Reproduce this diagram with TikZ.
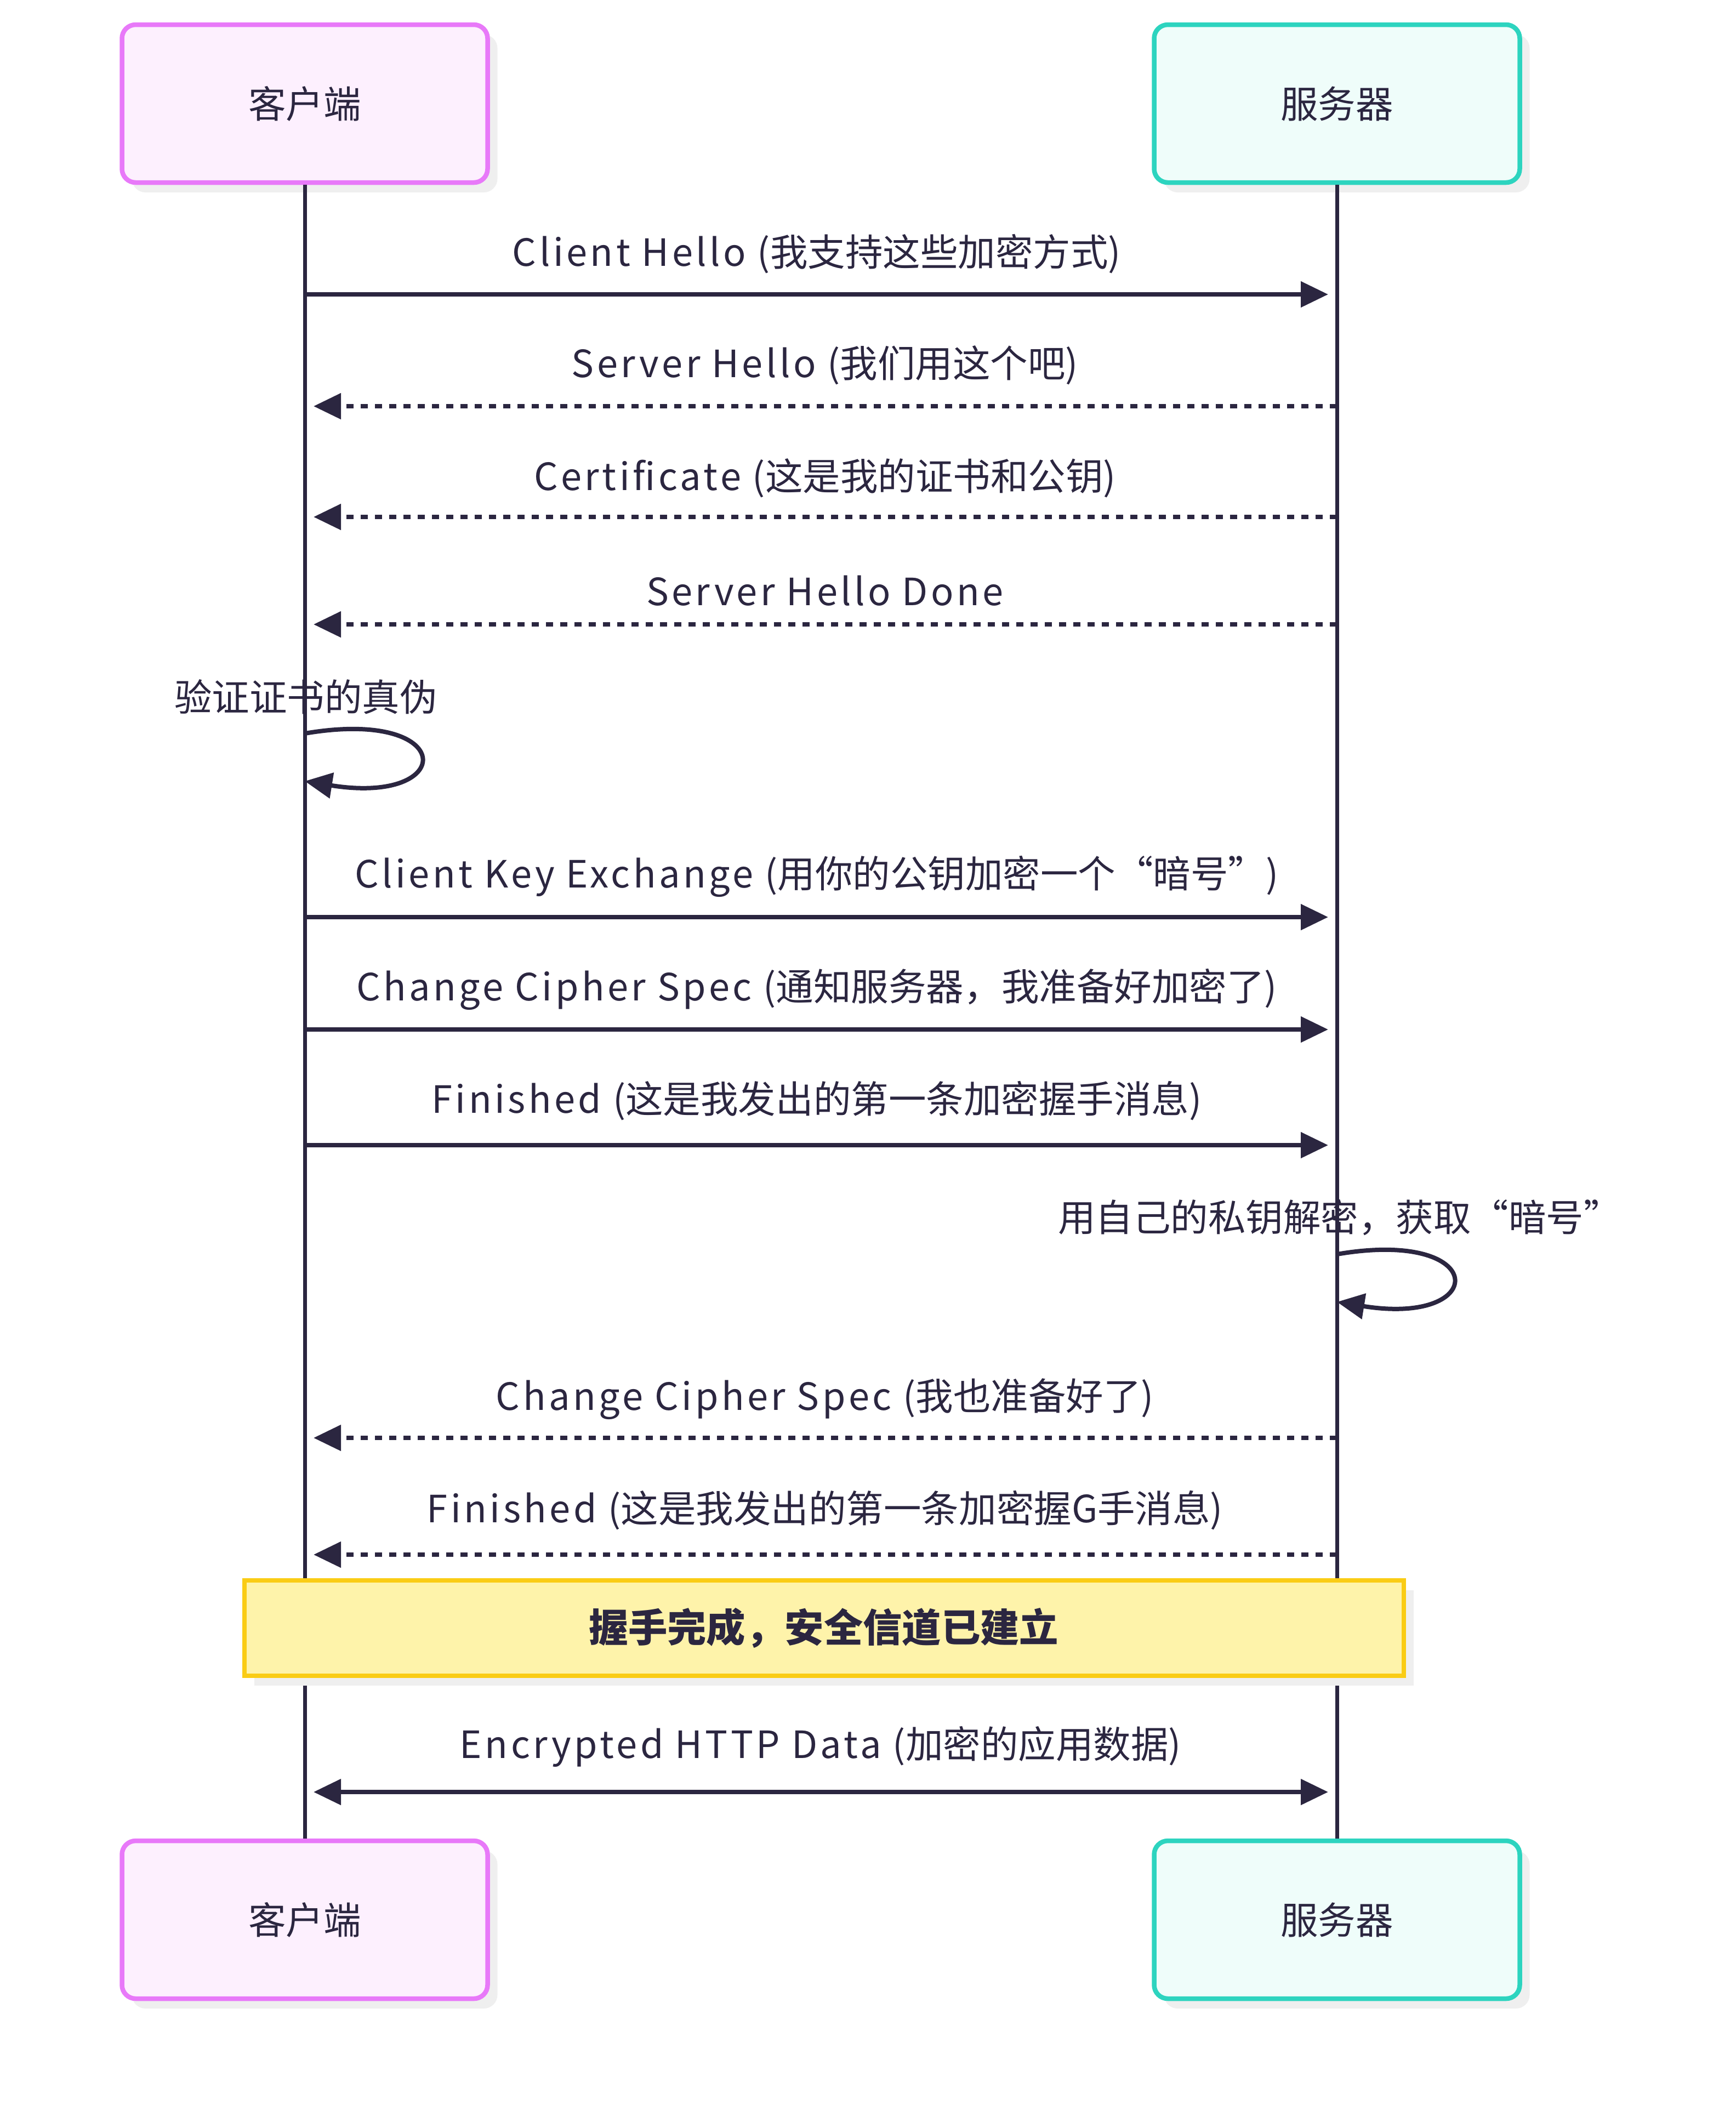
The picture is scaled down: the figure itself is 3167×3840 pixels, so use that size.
\documentclass[tikz,border=0pt]{standalone}
\usepackage{fontspec}
\setmainfont{Noto Sans CJK SC}
\newfontfamily\latinfont{Noto Sans CJK SC}[LetterSpace=8]
\newcommand\mixlabel[2]{{\latinfont #1 (}#2{\latinfont )}}
\usepackage{xcolor}
\usetikzlibrary{arrows.meta,shadows}
\definecolor{ink}{RGB}{43,38,64}
\definecolor{clientborder}{RGB}{232,121,249}
\definecolor{clientfill}{RGB}{253,240,254}
\definecolor{serverborder}{RGB}{45,212,191}
\definecolor{serverfill}{RGB}{239,253,250}
\definecolor{noteborder}{RGB}{250,204,21}
\definecolor{notefill}{RGB}{254,243,170}
\definecolor{shade}{RGB}{239,239,239}
\tikzset{
  actor/.style={
    rectangle,
    rounded corners=2.5mm,
    line width=0.85mm,
    minimum width=66.7mm,
    minimum height=28.8mm,
    align=center,
    text=ink,
    font=\fontsize{19.5pt}{24pt}\selectfont,
    drop shadow={shadow xshift=1.8mm, shadow yshift=-1.8mm, fill=shade, opacity=1}
  },
  msg/.style={
    -{Triangle[length=5mm,width=4.6mm]},
    draw=ink,
    line width=0.8mm,
    shorten >=1.6mm
  }
}

\begin{document}
\begin{tikzpicture}[
  x=0.1mm, y=-0.1mm,
  client_box/.style={actor, draw=clientborder, fill=clientfill},
  server_box/.style={actor, draw=serverborder, fill=serverfill},
  note_box/.style={rectangle, draw=noteborder, fill=notefill, line width=0.8mm, minimum width=211.5mm, minimum height=17.4mm, text=ink, font=\fontsize{20.3pt}{24pt}\selectfont\bfseries, drop shadow={shadow xshift=1.8mm, shadow yshift=-1.8mm, fill=shade, opacity=1}},
  msg_label/.style={text=ink, font=\fontsize{19.5pt}{24pt}\selectfont, inner sep=0pt},
  reply/.style={msg, dash pattern=on 1.3mm off 1.3mm},
  both/.style={{Triangle[length=5mm,width=4.6mm]}-{Triangle[length=5mm,width=4.6mm]}, draw=ink, line width=0.8mm, shorten >=1.6mm, shorten <=1.6mm},
  lifeline/.style={draw=ink, line width=0.7mm}
]
\useasboundingbox (0,0) rectangle (3167,3840);

% Participants
\node[client_box] (client) at (556,189) {客户端};
\node[server_box] (server) at (2439,189) {服务器};
\node[client_box] (clientb) at (556,3502) {客户端};
\node[server_box] (serverb) at (2439,3502) {服务器};

% Lifelines
\draw[lifeline] (client) -- (clientb);
\draw[lifeline] (server) -- (serverb);

% Lifeline points for messages
\coordinate (c1) at (556,537);   \coordinate (s1) at (2439,537);
\coordinate (c2) at (556,741);   \coordinate (s2) at (2439,741);
\coordinate (c3) at (556,943);   \coordinate (s3) at (2439,943);
\coordinate (c4) at (556,1139);  \coordinate (s4) at (2439,1139);
\coordinate (c6) at (556,1673);  \coordinate (s6) at (2439,1673);
\coordinate (c7) at (556,1878);  \coordinate (s7) at (2439,1878);
\coordinate (c8) at (556,2089);  \coordinate (s8) at (2439,2089);
\coordinate (c10) at (556,2623); \coordinate (s10) at (2439,2623);
\coordinate (c11) at (556,2836); \coordinate (s11) at (2439,2836);
\coordinate (c13) at (556,3269); \coordinate (s13) at (2439,3269);

% Hello phase
\node[msg_label] (m1) at (1490,463) {\mixlabel{Client Hello}{我支持这些加密方式}};
\draw[msg] (c1) -- (s1);
\node[msg_label] (m2) at (1505,666) {\mixlabel{Server Hello}{我们用这个吧}};
\draw[reply] (s2) -- (c2);
\node[msg_label] (m3) at (1505,872) {\mixlabel{Certificate}{这是我的证书和公钥}};
\draw[reply] (s3) -- (c3);
\node[msg_label] (m4) at (1505,1078) {\latinfont Server Hello Done};
\draw[reply] (s4) -- (c4);

% Client checks the certificate
\node[msg_label] (m5) at (558,1271) {验证证书的真伪};
\coordinate (loopa) at (556,1338);
\coordinate (loopb) at (556,1425);
\draw[msg, shorten >=0mm] (loopa) .. controls (835,1290) and (835,1470) .. (loopb);

% Key exchange
\node[msg_label] (m6) at (1490,1599) {\mixlabel{Client Key Exchange}{用你的公钥加密一个“暗号”}};
\draw[msg] (c6) -- (s6);
\node[msg_label] (m7) at (1490,1805) {\mixlabel{Change Cipher Spec}{通知服务器，我准备好加密了}};
\draw[msg] (c7) -- (s7);
\node[msg_label] (m8) at (1490,2008) {\mixlabel{Finished}{这是我发出的第一条加密握手消息}};
\draw[msg] (c8) -- (s8);

% Server decrypts
\node[msg_label] (m9) at (2444,2221) {用自己的私钥解密，获取“暗号”};
\coordinate (loopc) at (2439,2288);
\coordinate (loopd) at (2439,2375);
\draw[msg, shorten >=0mm] (loopc) .. controls (2718,2240) and (2718,2420) .. (loopd);

% Server finishes
\node[msg_label] (m10) at (1505,2552) {\mixlabel{Change Cipher Spec}{我也准备好了}};
\draw[reply] (s10) -- (c10);
\node[msg_label] (m11) at (1505,2755) {\mixlabel{Finished}{这是我发出的第一条加密握{\latinfont G}手消息}};
\draw[reply] (s11) -- (c11);

% Note over both
\node[note_box] (done) at (1503,2970) {握手完成，安全信道已建立};

% Application data
\node[msg_label] (m13) at (1497,3186) {\mixlabel{Encrypted HTTP Data}{加密的应用数据}};
\draw[both] (c13) -- (s13);

\end{tikzpicture}
\end{document}
